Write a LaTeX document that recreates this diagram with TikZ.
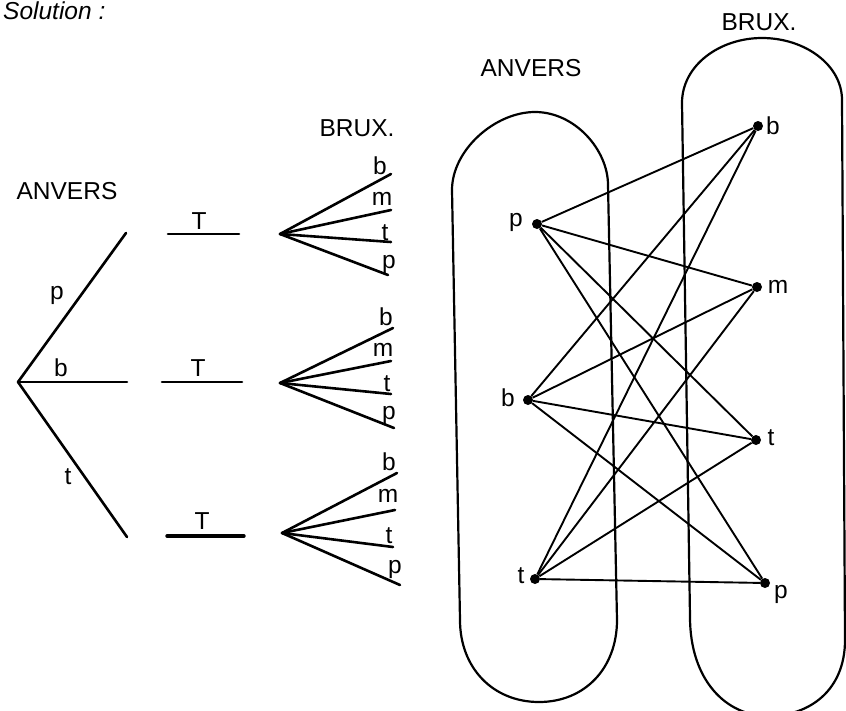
\documentclass[tikz,border=0pt]{standalone}
\usepackage{fontspec}
\setmainfont{Liberation Sans}
\begin{document}
\begin{tikzpicture}[x=1pt,y=-1pt,
  lbl/.style={inner sep=0pt, font=\fontsize{24.5}{28}\selectfont},
  tree/.style={line width=2.6pt, line cap=round},
  edge/.style={line width=1.9pt},
  oval/.style={line width=2.2pt},
  dot/.style={circle, fill, inner sep=0pt, minimum size=10pt}]
\useasboundingbox (0,0) rectangle (846,710);
\node[lbl, anchor=base west, font=\fontsize{24.5}{28}\selectfont\itshape] (sol) at (3,19) {Solution :};
% ---------- left: tree ----------
\node[lbl] (anv1) at (67,191) {ANVERS};
\node[lbl] (brx1) at (357,128) {BRUX.};
\coordinate (root) at (18,382);
\coordinate (tp) at (126,233);
\coordinate (tb) at (127,382);
\coordinate (tt) at (127,537);
\draw[tree] (root) -- (tp);
\draw[tree] (root) -- (tb);
\draw[tree] (root) -- (tt);
\node[lbl] (lp) at (57,295) {p};
\node[lbl] (lb) at (61,368) {b};
\node[lbl] (lt) at (68,477) {t};
% T segments
\coordinate (T1a) at (168,234); \coordinate (T1b) at (239,234);
\coordinate (T2a) at (162,382); \coordinate (T2b) at (242,382);
\coordinate (T3a) at (167,536); \coordinate (T3b) at (244,536);
\draw[tree] (T1a) -- (T1b);
\draw[tree] (T2a) -- (T2b);
\draw[tree, line width=3.4pt] (T3a) -- (T3b);
\node[lbl] (T1) at (199,221) {T};
\node[lbl] (T2) at (198,368) {T};
\node[lbl] (T3) at (202,521) {T};
% fans
\coordinate (A1) at (280,234);
\coordinate (A1b) at (391,174); \coordinate (A1m) at (391,210);
\coordinate (A1t) at (391,242); \coordinate (A1p) at (388,275);
\coordinate (A2) at (280,383);
\coordinate (A2b) at (393,328); \coordinate (A2m) at (391,361);
\coordinate (A2t) at (391,394); \coordinate (A2p) at (394,428);
\coordinate (A3) at (282,533);
\coordinate (A3b) at (397,473); \coordinate (A3m) at (395,510);
\coordinate (A3t) at (393,547); \coordinate (A3p) at (400,585);
\foreach \i in {1,2,3}{
  \foreach \j in {b,m,t,p}{
    \draw[tree] (A\i) -- (A\i\j);
  }
}
\node[lbl] (f1b) at (380,166) {b};
\node[lbl] (f1m) at (382,199) {m};
\node[lbl] (f1t) at (385,233) {t};
\node[lbl] (f1p) at (389,264) {p};
\node[lbl] (f2b) at (386,317) {b};
\node[lbl] (f2m) at (383,350) {m};
\node[lbl] (f2t) at (387,384) {t};
\node[lbl] (f2p) at (389,415) {p};
\node[lbl] (f3b) at (389,462) {b};
\node[lbl] (f3m) at (388,496) {m};
\node[lbl] (f3t) at (389,536) {t};
\node[lbl] (f3p) at (395,569) {p};
% ---------- right: sets ----------
\node[lbl] (anv2) at (531,68) {ANVERS};
\node[lbl] (brx2) at (759,22) {BRUX.};
\draw[oval] (460,620) -- (452,190)
  .. controls (452,150) and (495,112) .. (535,112)
  .. controls (575,112) and (608,150) .. (608,185)
  -- (617,620)
  .. controls (617,668) and (585,702) .. (539,702)
  .. controls (493,702) and (460,668) .. (460,620) -- cycle;
\draw[oval] (690,617) -- (682,103)
  .. controls (682,65) and (720,38) .. (762,38)
  .. controls (805,38) and (842,65) .. (842,100)
  -- (845,640)
  .. controls (845,690) and (810,716) .. (768,716)
  .. controls (726,716) and (690,680) .. (690,617) -- cycle;
\node[dot] (ap) at (537,224) {};
\node[dot] (ab) at (528,400) {};
\node[dot] (at) at (535,579) {};
\node[dot] (bb) at (758,126) {};
\node[dot] (bm) at (757,287) {};
\node[dot] (bt) at (756,440) {};
\node[dot] (bp) at (765,583) {};
\node[lbl] (lap) at (516,222) {p};
\node[lbl] (lab) at (508,398) {b};
\node[lbl] (lat) at (521,576) {t};
\node[lbl] (lbb) at (773,126) {b};
\node[lbl] (lbm) at (778,287) {m};
\node[lbl] (lbt) at (771,438) {t};
\node[lbl] (lbp) at (781,594) {p};
\foreach \a in {ap,ab,at}{
  \foreach \b in {bb,bm,bt,bp}{
    \draw[edge] (\a) -- (\b);
  }
}
\end{tikzpicture}
\end{document}
